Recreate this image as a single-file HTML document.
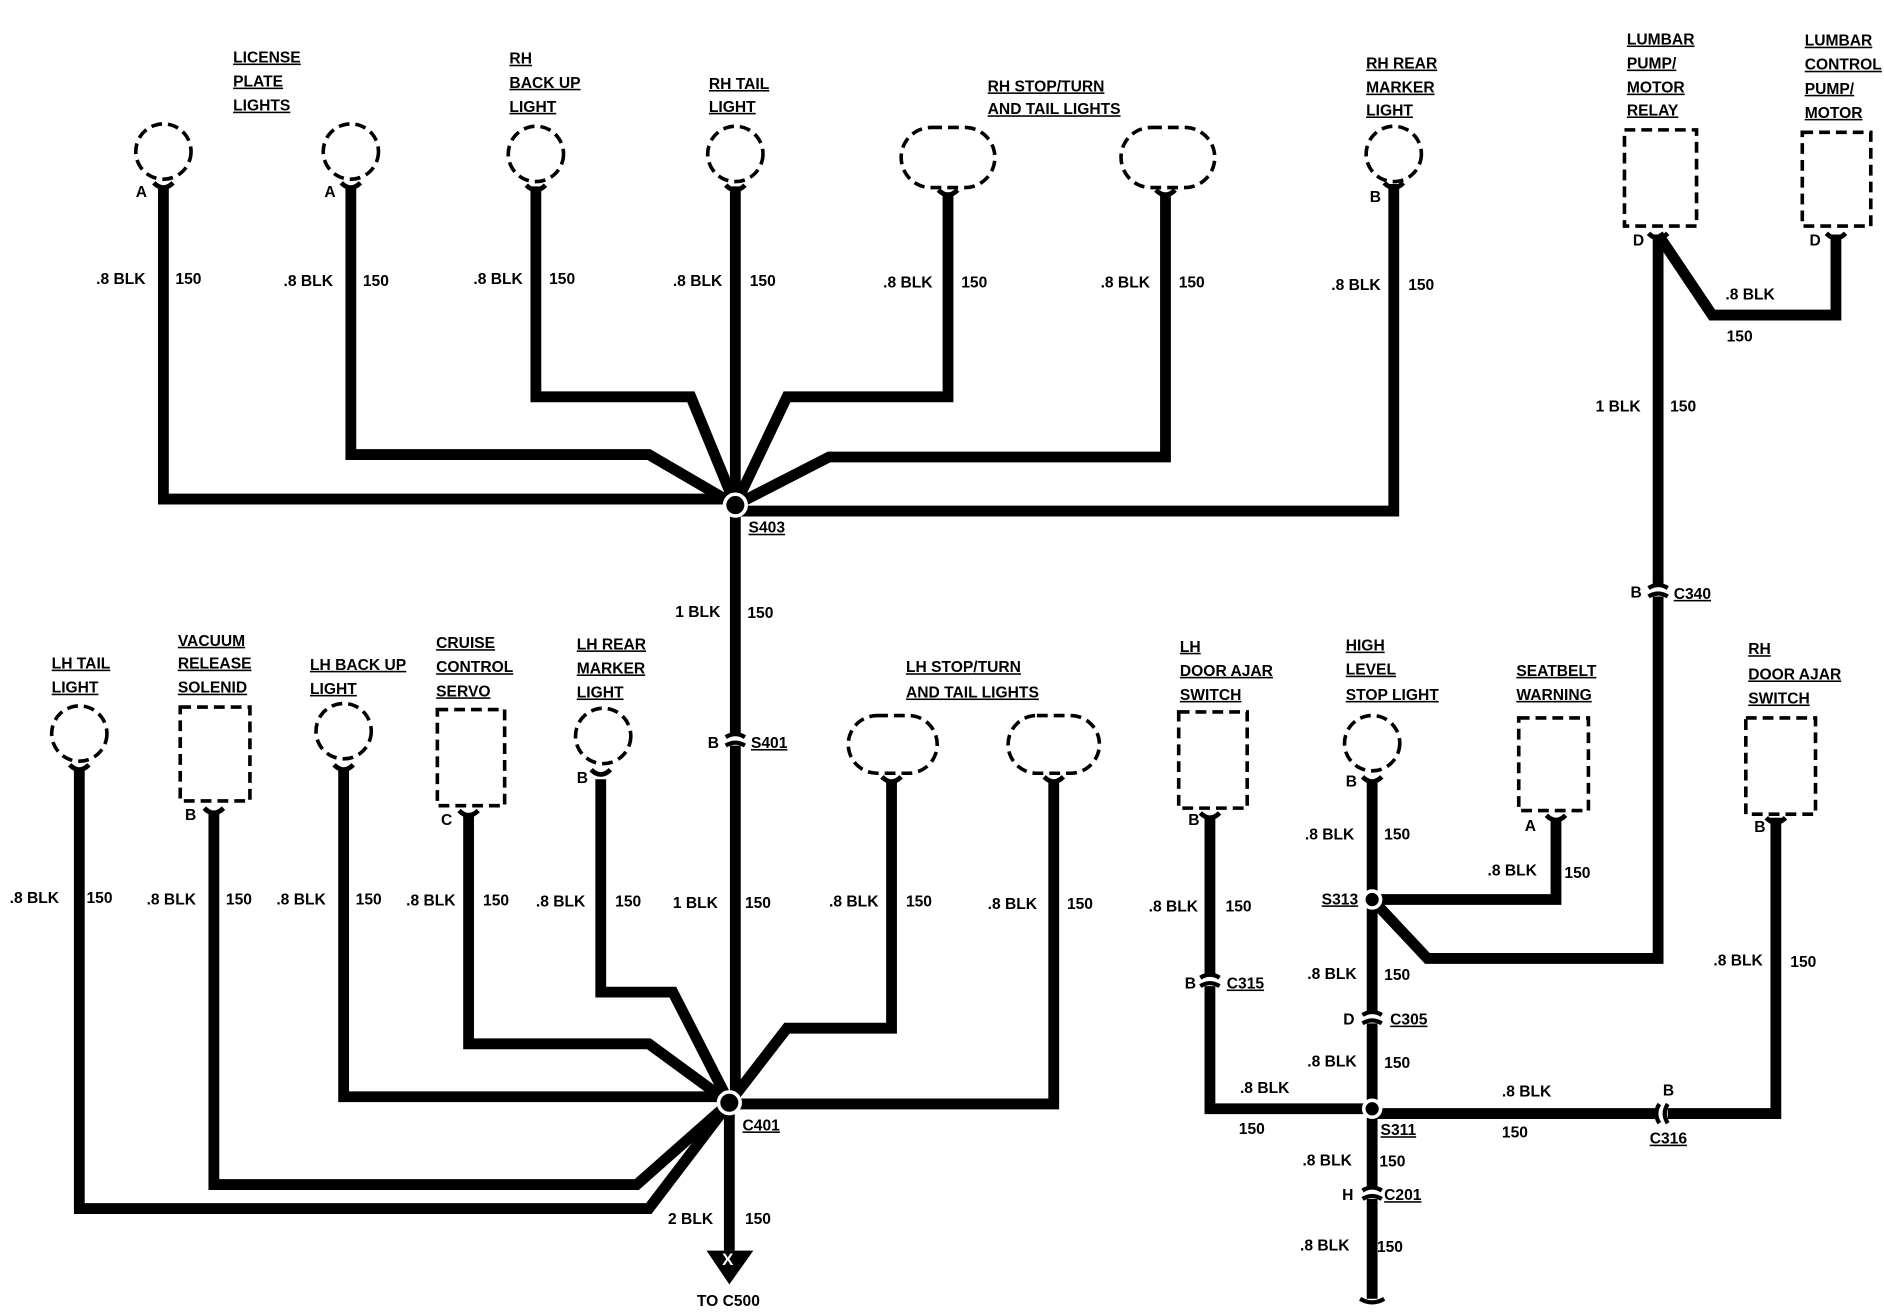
<!DOCTYPE html>
<html><head><meta charset="utf-8"><style>
html,body{margin:0;padding:0;background:#fff;}
svg{display:block;}
text{font-family:"Liberation Sans",sans-serif;font-weight:bold;font-size:13px;fill:#000;}
.u{text-decoration:underline;}
</style></head><body>
<svg width="1884" height="1312" viewBox="0 0 1568 1091" preserveAspectRatio="none" xmlns="http://www.w3.org/2000/svg">
<g fill="none" stroke="#000" stroke-width="9" stroke-linejoin="miter">
<!-- top wires -->
<path d="M136 155 V415 H612"/>
<path d="M292 155 V378 H540 L612 420"/>
<path d="M446 155 V330 H575 L612 420"/>
<path d="M612 155 V420"/>
<path d="M789 160 V330 H655 L612 420"/>
<path d="M970 160 V380 H690 L612 420"/>
<path d="M1160 153 V425 H612"/>
<path d="M612 420 V917"/>
<!-- bottom-left -->
<path d="M66 640 V1005 H540 L607 917"/>
<path d="M178 676 V985 H530 L607 917"/>
<path d="M286 640 V912 H607"/>
<path d="M390 676 V868 H540 L607 917"/>
<path d="M500 648 V825 H560 L607 917"/>
<path d="M742 650 V855 H655 L607 917"/>
<path d="M877 650 V918 H607"/>
<path d="M607 917 V1040"/>
<!-- right -->
<path d="M1380 195 L1425 262 H1528 V195"/>
<path d="M1380 195 V797 H1188 L1142 748"/>
<path d="M1007 680 V922 H1142"/>
<path d="M1142 650 V1080"/>
<path d="M1295 680 V748 H1142"/>
<path d="M1478 680 V926 H1142"/>
</g>
<!-- splices -->
<g fill="#000" stroke="#fff" stroke-width="3">
<circle cx="612" cy="420" r="9"/>
<circle cx="607" cy="917" r="9"/>
<circle cx="1142" cy="748" r="7"/>
<circle cx="1142" cy="922" r="7"/>
</g>
<!-- arrow -->
<path d="M588 1040 H627 L607 1068 Z" fill="#000"/>
<text x="601" y="1052" style="fill:#fff;font-size:14px">X</text>
<text x="580" y="1086">TO C500</text>
<!-- components dashed -->
<g fill="#fff" stroke="#000" stroke-width="3" stroke-dasharray="9,5">
<circle cx="136" cy="126" r="23"/>
<circle cx="292" cy="126" r="23"/>
<circle cx="446" cy="128" r="23"/>
<circle cx="612" cy="128" r="23"/>
<rect x="750" y="106" width="78" height="50" rx="25"/>
<rect x="933" y="106" width="78" height="50" rx="25"/>
<circle cx="1160" cy="128" r="23"/>
<rect x="1352" y="108" width="60" height="80"/>
<rect x="1500" y="110" width="57" height="78"/>
<circle cx="66" cy="610" r="23"/>
<rect x="150" y="588" width="58" height="78"/>
<circle cx="286" cy="608" r="23"/>
<rect x="364" y="590" width="56" height="80"/>
<circle cx="502" cy="612" r="23"/>
<rect x="706" y="595" width="74" height="48" rx="24"/>
<rect x="839" y="595" width="76" height="48" rx="24"/>
<rect x="981" y="592" width="57" height="80"/>
<circle cx="1142" cy="618" r="23"/>
<rect x="1264" y="597" width="58" height="77"/>
<rect x="1453" y="597" width="58" height="80"/>
</g>
<!-- pin cups -->
<g fill="none" stroke="#000" stroke-width="4">
<path d="M128 152 Q136 160 144 152"/><path d="M284 152 Q292 160 300 152"/>
<path d="M438 154 Q446 162 454 154"/><path d="M604 154 Q612 162 620 154"/>
<path d="M781 158 Q789 166 797 158"/><path d="M962 158 Q970 166 978 158"/>
<path d="M1152 152 Q1160 160 1168 152"/><path d="M1372 194 Q1380 202 1388 194"/>
<path d="M1520 194 Q1528 202 1536 194"/>
<path d="M58 636 Q66 644 74 636"/><path d="M170 672 Q178 680 186 672"/>
<path d="M278 636 Q286 644 294 636"/><path d="M382 674 Q390 682 398 674"/>
<path d="M492 640 Q500 648 508 640"/><path d="M734 646 Q742 654 750 646"/>
<path d="M869 646 Q877 654 885 646"/><path d="M999 676 Q1007 684 1015 676"/>
<path d="M1134 646 Q1142 654 1150 646"/><path d="M1287 678 Q1295 686 1303 678"/>
<path d="M1470 680 Q1478 688 1486 680"/>
</g>
<!-- inline connectors -->
<g fill="none" stroke="#000" stroke-width="3.5">
<rect x="1374" y="488" width="12" height="8" fill="#fff" stroke="none"/>
<path d="M1372 489 Q1380 484 1388 489"/><path d="M1372 496 Q1380 491 1388 496"/>
<rect x="606" y="612" width="12" height="8" fill="#fff" stroke="none"/>
<path d="M604 613 Q612 608 620 613"/><path d="M604 620 Q612 615 620 620"/>
<rect x="1001" y="812" width="12" height="8" fill="#fff" stroke="none"/>
<path d="M999 813 Q1007 808 1015 813"/><path d="M999 820 Q1007 815 1015 820"/>
<rect x="1136" y="843" width="12" height="8" fill="#fff" stroke="none"/>
<path d="M1134 844 Q1142 839 1150 844"/><path d="M1134 851 Q1142 846 1150 851"/>
<rect x="1136" y="989" width="12" height="8" fill="#fff" stroke="none"/>
<path d="M1134 990 Q1142 985 1150 990"/><path d="M1134 997 Q1142 992 1150 997"/>
<rect x="1380" y="920" width="8" height="12" fill="#fff" stroke="none"/>
<path d="M1381 918 Q1376 926 1381 934"/><path d="M1388 918 Q1383 926 1388 934"/>
<path d="M1132 1080 Q1142 1086 1152 1080"/>
</g>
<!-- labels -->
<text x="194" y="52" class="u">LICENSE</text><text x="194" y="72" class="u">PLATE</text><text x="194" y="92" class="u">LIGHTS</text>
<text x="424" y="53" class="u">RH</text><text x="424" y="73" class="u">BACK UP</text><text x="424" y="93" class="u">LIGHT</text>
<text x="590" y="74" class="u">RH TAIL</text><text x="590" y="93" class="u">LIGHT</text>
<text x="822" y="76" class="u">RH STOP/TURN</text><text x="822" y="95" class="u">AND TAIL LIGHTS</text>
<text x="1137" y="57" class="u">RH REAR</text><text x="1137" y="77" class="u">MARKER</text><text x="1137" y="96" class="u">LIGHT</text>
<text x="1354" y="37" class="u">LUMBAR</text><text x="1354" y="57" class="u">PUMP/</text><text x="1354" y="77" class="u">MOTOR</text><text x="1354" y="96" class="u">RELAY</text>
<text x="1502" y="38" class="u">LUMBAR</text><text x="1502" y="58" class="u">CONTROL</text><text x="1502" y="78" class="u">PUMP/</text><text x="1502" y="98" class="u">MOTOR</text>
<text x="113" y="164">A</text><text x="270" y="164">A</text><text x="1140" y="168">B</text>
<text x="1359" y="204">D</text><text x="1506" y="204">D</text>
<text x="80" y="236">.8 BLK</text><text x="146" y="236">150</text>
<text x="236" y="238">.8 BLK</text><text x="302" y="238">150</text>
<text x="394" y="236">.8 BLK</text><text x="457" y="236">150</text>
<text x="560" y="238">.8 BLK</text><text x="624" y="238">150</text>
<text x="735" y="239">.8 BLK</text><text x="800" y="239">150</text>
<text x="916" y="239">.8 BLK</text><text x="981" y="239">150</text>
<text x="1108" y="241">.8 BLK</text><text x="1172" y="241">150</text>
<text x="1436" y="249">.8 BLK</text><text x="1437" y="284">150</text>
<text x="1328" y="342">1 BLK</text><text x="1390" y="342">150</text>
<text x="1357" y="497">B</text><text x="1393" y="498" class="u">C340</text>
<text x="623" y="443" class="u">S403</text>
<text x="562" y="513">1 BLK</text><text x="622" y="514">150</text>
<text x="589" y="622">B</text><text x="625" y="622" class="u">S401</text>
<text x="43" y="556" class="u">LH TAIL</text><text x="43" y="576" class="u">LIGHT</text>
<text x="148" y="537" class="u">VACUUM</text><text x="148" y="556" class="u">RELEASE</text><text x="148" y="576" class="u">SOLENID</text>
<text x="258" y="557" class="u">LH BACK UP</text><text x="258" y="577" class="u">LIGHT</text>
<text x="363" y="539" class="u">CRUISE</text><text x="363" y="559" class="u">CONTROL</text><text x="363" y="579" class="u">SERVO</text>
<text x="480" y="540" class="u">LH REAR</text><text x="480" y="560" class="u">MARKER</text><text x="480" y="580" class="u">LIGHT</text>
<text x="754" y="559" class="u">LH STOP/TURN</text><text x="754" y="580" class="u">AND TAIL LIGHTS</text>
<text x="154" y="682">B</text><text x="367" y="686">C</text><text x="480" y="651">B</text>
<text x="8" y="751">.8 BLK</text><text x="72" y="751">150</text>
<text x="122" y="752">.8 BLK</text><text x="188" y="752">150</text>
<text x="230" y="752">.8 BLK</text><text x="296" y="752">150</text>
<text x="338" y="753">.8 BLK</text><text x="402" y="753">150</text>
<text x="446" y="754">.8 BLK</text><text x="512" y="754">150</text>
<text x="560" y="755">1 BLK</text><text x="620" y="755">150</text>
<text x="690" y="754">.8 BLK</text><text x="754" y="754">150</text>
<text x="822" y="756">.8 BLK</text><text x="888" y="756">150</text>
<text x="618" y="940" class="u">C401</text>
<text x="556" y="1018">2 BLK</text><text x="620" y="1018">150</text>
<text x="982" y="542" class="u">LH</text><text x="982" y="562" class="u">DOOR AJAR</text><text x="982" y="582" class="u">SWITCH</text>
<text x="1120" y="541" class="u">HIGH</text><text x="1120" y="561" class="u">LEVEL</text><text x="1120" y="582" class="u">STOP LIGHT</text>
<text x="1262" y="562" class="u">SEATBELT</text><text x="1262" y="582" class="u">WARNING</text>
<text x="1455" y="544" class="u">RH</text><text x="1455" y="565" class="u">DOOR AJAR</text><text x="1455" y="585" class="u">SWITCH</text>
<text x="989" y="686">B</text><text x="1120" y="654">B</text><text x="1269" y="691">A</text><text x="1460" y="692">B</text>
<text x="956" y="758">.8 BLK</text><text x="1020" y="758">150</text>
<text x="1086" y="698">.8 BLK</text><text x="1152" y="698">150</text>
<text x="1238" y="728">.8 BLK</text><text x="1302" y="730">150</text>
<text x="1100" y="752" class="u">S313</text>
<text x="1088" y="814">.8 BLK</text><text x="1152" y="815">150</text>
<text x="1426" y="803">.8 BLK</text><text x="1490" y="804">150</text>
<text x="986" y="822">B</text><text x="1021" y="822" class="u">C315</text>
<text x="1118" y="852">D</text><text x="1157" y="852" class="u">C305</text>
<text x="1088" y="887">.8 BLK</text><text x="1152" y="888">150</text>
<text x="1032" y="909">.8 BLK</text><text x="1031" y="943">150</text>
<text x="1250" y="912">.8 BLK</text><text x="1250" y="946">150</text>
<text x="1384" y="911">B</text><text x="1373" y="951" class="u">C316</text>
<text x="1149" y="944" class="u">S311</text>
<text x="1084" y="969">.8 BLK</text><text x="1148" y="970">150</text>
<text x="1117" y="998">H</text><text x="1152" y="998" class="u">C201</text>
<text x="1082" y="1040">.8 BLK</text><text x="1146" y="1041">150</text>
</svg>
</body></html>
